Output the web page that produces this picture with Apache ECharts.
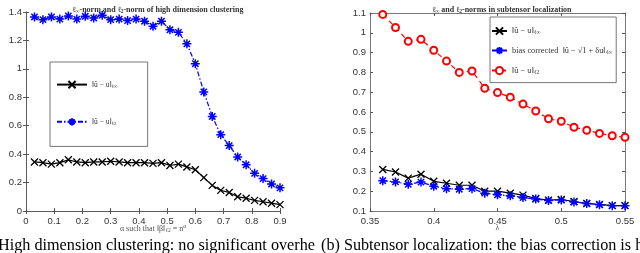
<!DOCTYPE html>
<html><head><meta charset="utf-8">
<script src="https://cdn.jsdelivr.net/npm/echarts@6/dist/echarts.min.js"></script>
<style>html,body{margin:0;padding:0;background:#fff}#c{width:640px;height:253px}</style>
</head><body><div id="c"></div>
<script>
// Left panel: high dimension clustering
const alphaX = [0.03,0.06,0.09,0.12,0.15,0.18,0.21,0.24,0.27,0.30,0.33,0.36,0.39,0.42,0.45,0.48,0.51,0.54,0.57,0.60,0.63,0.66,0.69,0.72,0.75,0.78,0.81,0.84,0.87,0.90];
const clusterInf = [0.345,0.34,0.33,0.34,0.36,0.345,0.34,0.345,0.345,0.35,0.345,0.34,0.34,0.34,0.335,0.34,0.32,0.33,0.31,0.29,0.235,0.18,0.145,0.13,0.10,0.09,0.075,0.065,0.055,0.045];
const cluster2 = [1.365,1.346,1.365,1.35,1.372,1.35,1.37,1.358,1.377,1.346,1.35,1.34,1.35,1.335,1.30,1.335,1.275,1.257,1.176,1.036,0.838,0.665,0.537,0.46,0.38,0.325,0.265,0.228,0.19,0.163];
const leftXTicks = [0,0.1,0.2,0.3,0.4,0.5,0.6,0.7,0.8,0.9];
const leftYTicks = [0,0.2,0.4,0.6,0.8,1,1.2,1.4];
// Right panel: subtensor localization
const lambdaX = [0.36,0.37,0.38,0.39,0.40,0.41,0.42,0.43,0.44,0.45,0.46,0.47,0.48,0.49,0.50,0.51,0.52,0.53,0.54,0.55];
const subInf = [0.31,0.297,0.266,0.286,0.25,0.24,0.23,0.23,0.20,0.20,0.19,0.18,0.163,0.155,0.158,0.148,0.138,0.133,0.127,0.127];
const subBias = [0.253,0.247,0.235,0.246,0.225,0.213,0.21,0.213,0.19,0.182,0.177,0.168,0.16,0.153,0.155,0.145,0.138,0.132,0.127,0.127];
const sub2 = [1.093,1.027,0.957,0.967,0.912,0.857,0.80,0.807,0.72,0.698,0.675,0.64,0.605,0.566,0.553,0.523,0.508,0.492,0.48,0.472];
const rightXTicks = [0.35,0.4,0.45,0.5,0.55];
const rightYTicks = [0.1,0.2,0.3,0.4,0.5,0.6,0.7,0.8,0.9,1,1.1];
const captionLeft = 'High dimension clustering: no significant overhe';
const captionRight = '(b) Subtensor localization: the bias correction is h';

const CROSS = 'path://M0,0L10,10M10,0L0,10';
const STAR = 'path://M5,0L5,10M0,5L10,5M1.5,1.5L8.5,8.5M8.5,1.5L1.5,8.5';
const axisCol = '#555';
const tickFont = {fontFamily:'Liberation Sans, Arial, sans-serif', fontSize:9.5, color:'#333'};
const serif = 'Liberation Serif, DejaVu Serif, serif';
const pair = (xs, ys) => xs.map((x,i)=>[x, ys[i]]);
const fmt = v => String(Math.round(v*100)/100);

function xAxes(gi, min, max, interval, name, nameRich) {
  return [
    {gridIndex:gi, type:'value', min, max, interval, position:'bottom',
     axisLine:{show:true,lineStyle:{color:axisCol,width:0.8}}, axisTick:{inside:true,length:3,lineStyle:{color:axisCol}},
     splitLine:{show:false}, axisLabel:Object.assign({margin:5, formatter:fmt}, tickFont),
     name, nameLocation:'middle', nameGap:13, nameMoveOverlap:false,
     nameTextStyle:{fontFamily:serif, fontSize:8, color:'#555', rich:nameRich}},
    {gridIndex:gi, type:'value', min, max, interval, position:'top',
     axisLine:{show:true,lineStyle:{color:axisCol,width:0.8}}, axisTick:{inside:true,length:3,lineStyle:{color:axisCol}},
     splitLine:{show:false}, axisLabel:{show:false}}
  ];
}
function yAxes(gi, min, max, interval) {
  return [
    {gridIndex:gi, type:'value', min, max, interval, position:'left',
     axisLine:{show:true,lineStyle:{color:axisCol,width:0.8}}, axisTick:{show:true,inside:true,length:3,lineStyle:{color:axisCol}},
     splitLine:{show:false}, axisLabel:Object.assign({margin:4, formatter:fmt}, tickFont)},
    {gridIndex:gi, type:'value', min, max, interval, position:'right',
     axisLine:{show:true,lineStyle:{color:axisCol,width:0.8}}, axisTick:{show:true,inside:true,length:3,lineStyle:{color:axisCol}},
     splitLine:{show:false}, axisLabel:{show:false}}
  ];
}

const rich = {
  t:{fontFamily:serif, fontSize:8, color:'#333'},
  s:{fontFamily:serif, fontSize:5.5, color:'#333', verticalAlign:'bottom', padding:[4,0,0,0]},
  sup:{fontFamily:serif, fontSize:5.5, color:'#555', padding:[0,0,4,0]},
  n:{fontFamily:serif, fontSize:8, color:'#555'},
  ns:{fontFamily:serif, fontSize:5.5, color:'#555', padding:[4,0,0,0]},
  lg:{fontFamily:serif, fontSize:7.5, color:'#333'},
  lgs:{fontFamily:serif, fontSize:5, color:'#333', padding:[4,0,0,0]},
  rg:{fontFamily:serif, fontSize:8.3, color:'#333'},
  rgs:{fontFamily:serif, fontSize:5.5, color:'#333', padding:[4,0,0,0]}
};

const legendNames = {
  a:'{lg|‖û − u‖}{lgs|ℓ∞}',
  b:'{lg|‖û − u‖}{lgs|ℓ2}',
  c:'{rg|‖û − u‖}{rgs|ℓ∞} ',
  d:'{rg|bias corrected  ‖û − √1 + δu‖}{rgs|ℓ∞}',
  e:'{rg|‖û − u‖}{rgs|ℓ2} '
};

const chart = echarts.init(document.getElementById('c'), null, {renderer:'canvas'});
chart.setOption({
  animation:false,
  backgroundColor:'#fff',
  title:[
    {text:'{t|ℓ}{s|∞}{t|-norm and ℓ}{s|2}{t|-norm of high dimension clustering}', left:153, top:0, textAlign:'center',
     textStyle:{rich}},
    {text:'{t|ℓ}{s|∞}{t| and ℓ}{s|2}{t|-norms in subtensor localization}', left:497, top:0, textAlign:'center',
     textStyle:{rich}}
  ],
  grid:[
    {left:26, right:360, top:12, bottom:42},
    {left:370, right:15, top:13, bottom:42}
  ],
  xAxis:[
    ...xAxes(0, 0, 0.9, 0.1, '{n|α such that ‖β‖}{ns|ℓ2}{n| = n}{sup|α}', rich),
    ...xAxes(1, 0.35, 0.55, 0.05, '{n|λ}', rich)
  ],
  yAxis:[
    ...yAxes(0, 0, 1.4, 0.2),
    ...yAxes(1, 0.1, 1.1, 0.1)
  ],
  legend:[
    {data:[legendNames.a, legendNames.b], left:50, top:62, orient:'vertical',
     padding:[18,30,20,6], itemGap:28, itemWidth:30, itemHeight:9, borderColor:'#555', borderWidth:0.8,
     backgroundColor:'#fff', textStyle:{rich}, formatter:n=>n},
    {data:[legendNames.c, legendNames.d, legendNames.e], left:490, top:17, orient:'vertical',
     padding:[8,4,6,1], itemGap:9, itemWidth:15, itemHeight:9, borderColor:'#555', borderWidth:0.8,
     backgroundColor:'#fff', textStyle:{rich}, formatter:n=>n}
  ],
  series:[
    {name:legendNames.a, type:'line', xAxisIndex:0, yAxisIndex:0, data:pair(alphaX, clusterInf),
     symbol:CROSS, symbolSize:7, lineStyle:{color:'#000', width:1.2},
     itemStyle:{color:'rgba(0,0,0,0)', borderColor:'#000', borderWidth:1.3}},
    {name:legendNames.b, type:'line', xAxisIndex:0, yAxisIndex:0, data:pair(alphaX, cluster2),
     symbol:STAR, symbolSize:9, lineStyle:{color:'#0000ff', width:1.2, type:[5,2,1.5,2]},
     itemStyle:{color:'rgba(0,0,0,0)', borderColor:'#0000ff', borderWidth:1.5}},
    {name:legendNames.c, type:'line', xAxisIndex:2, yAxisIndex:2, data:pair(lambdaX, subInf),
     symbol:CROSS, symbolSize:7, lineStyle:{color:'#000', width:1.2},
     itemStyle:{color:'rgba(0,0,0,0)', borderColor:'#000', borderWidth:1.3}},
    {name:legendNames.d, type:'line', xAxisIndex:2, yAxisIndex:2, data:pair(lambdaX, subBias),
     symbol:STAR, symbolSize:9, lineStyle:{color:'#0000ff', width:1.2, type:[5,2,1.5,2]},
     itemStyle:{color:'rgba(0,0,0,0)', borderColor:'#0000ff', borderWidth:1.5}},
    {name:legendNames.e, type:'line', xAxisIndex:2, yAxisIndex:2, data:pair(lambdaX, sub2),
     symbol:'emptyCircle', symbolSize:7, lineStyle:{color:'#ff0000', width:1.2, type:[5,4]},
     itemStyle:{color:'#ff0000', borderColor:'#ff0000', borderWidth:1.3}}
  ],
  graphic:[
    {type:'text', left:-2, top:238, style:{text:captionLeft, font:'16.2px "Liberation Serif", serif', fill:'#000'}},
    {type:'text', left:321, top:238, style:{text:captionRight, font:'16.2px "Liberation Serif", serif', fill:'#000'}}
  ]
});
</script></body></html>
